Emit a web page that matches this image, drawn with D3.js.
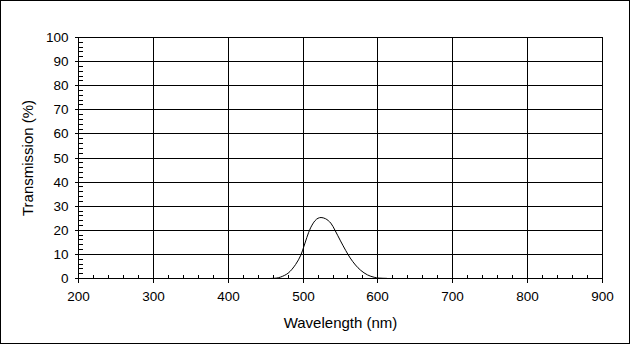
<!DOCTYPE html>
<html><head><meta charset="utf-8">
<script src="https://cdn.jsdelivr.net/npm/d3@7"></script>
<style>
html,body{margin:0;padding:0;background:#fff;}
svg{display:block;}
text{font-family:"Liberation Sans",Arial,sans-serif;fill:#000;}
</style></head>
<body>
<svg id="chart" width="630" height="344"></svg>
<script>
// Data
const wavelength = [455, 465, 470, 480, 490, 497, 501, 505, 510, 516, 520, 524, 530, 537, 543, 550, 557, 563, 570, 577, 586, 595, 601, 612];
const transmission = [0, 0.2, 0.6, 2.2, 5.8, 9.7, 13.2, 17, 21, 24, 25, 25.3, 24.8, 23, 19.8, 15.6, 11.6, 8.5, 5.6, 3.4, 1.5, 0.5, 0.2, 0.05];
const xTicks = [200, 300, 400, 500, 600, 700, 800, 900];
const yTicks = [0, 10, 20, 30, 40, 50, 60, 70, 80, 90, 100];
const xTitle = "Wavelength (nm)";
const yTitle = "Transmission (%)";

const svg = d3.select("#chart");
const W = 630, H = 344;
const L = 78.5, R = 602.5, T = 37.5, B = 278.5;

svg.append("rect").attr("x", 0.5).attr("y", 0.5).attr("width", W - 1).attr("height", H - 1)
  .attr("fill", "#fff").attr("stroke", "#000").attr("stroke-width", 1);

const x = d3.scaleLinear().domain([200, 900]).range([L, R]);
const y = d3.scaleLinear().domain([0, 100]).range([B, T]);

const g = svg.append("g").attr("shape-rendering", "crispEdges");

// gridlines
g.selectAll(".vg").data(xTicks).join("line")
  .attr("x1", d => Math.round(x(d) - 0.5) + 0.5).attr("x2", d => Math.round(x(d) - 0.5) + 0.5)
  .attr("y1", T).attr("y2", B).attr("stroke", "#000");
g.selectAll(".hg").data(yTicks).join("line")
  .attr("y1", d => Math.round(y(d) - 0.5) + 0.5).attr("y2", d => Math.round(y(d) - 0.5) + 0.5)
  .attr("x1", L).attr("x2", R).attr("stroke", "#000");

// minor ticks (inside)
const xMinor = d3.range(200, 901, 20).filter(v => v % 100 !== 0);
const yMinor = d3.range(0, 101, 2).filter(v => v % 10 !== 0);
g.selectAll(".xm").data(xMinor).join("line")
  .attr("x1", d => Math.round(x(d) - 0.5) + 0.5).attr("x2", d => Math.round(x(d) - 0.5) + 0.5)
  .attr("y1", B).attr("y2", B - 4).attr("stroke", "#000");
g.selectAll(".ym").data(yMinor).join("line")
  .attr("y1", d => Math.round(y(d) - 0.5) + 0.5).attr("y2", d => Math.round(y(d) - 0.5) + 0.5)
  .attr("x1", L).attr("x2", L + 4).attr("stroke", "#000");

// axes with outward major ticks
const xAxis = d3.axisBottom(x).tickValues(xTicks).tickSize(4).tickSizeOuter(0).tickPadding(6);
const yAxis = d3.axisLeft(y).tickValues(yTicks).tickSize(4).tickSizeOuter(0).tickPadding(6);

const gx = svg.append("g").attr("transform", `translate(0,${B})`).call(xAxis);
const gy = svg.append("g").attr("transform", `translate(${L},0)`).call(yAxis);
[gx, gy].forEach(a => {
  a.select(".domain").remove();
  a.selectAll("line").attr("stroke", "#000").attr("shape-rendering", "crispEdges");
  a.selectAll("text").attr("font-family", "'Liberation Sans', Arial, sans-serif")
    .attr("font-size", "13.5px").attr("fill", "#000");
});
gx.selectAll(".tick").attr("transform", d => `translate(${Math.round(x(d) - 0.5) + 0.5},0)`);
gy.selectAll(".tick").attr("transform", d => `translate(0,${Math.round(y(d) - 0.5) + 0.5})`);
gy.selectAll("text").attr("x", -10).attr("dy", "0.36em");
gx.selectAll("text").attr("y", 13).attr("dy", "0.71em");

// axis titles
svg.append("text").attr("x", (L + R) / 2).attr("y", 327.5).attr("text-anchor", "middle")
  .attr("font-size", "15px").text(xTitle);
svg.append("text").attr("transform", `translate(33,${(T + B) / 2}) rotate(-90)`)
  .attr("text-anchor", "middle").attr("font-size", "15px").text(yTitle);

// curve
const data = wavelength.map((w, i) => [w, transmission[i]]);
svg.append("path").datum(data)
  .attr("fill", "none").attr("stroke", "#000").attr("stroke-width", 1)
  .attr("d", d3.line().x(d => x(d[0])).y(d => y(d[1])).curve(d3.curveCatmullRom));
</script>
</body></html>
